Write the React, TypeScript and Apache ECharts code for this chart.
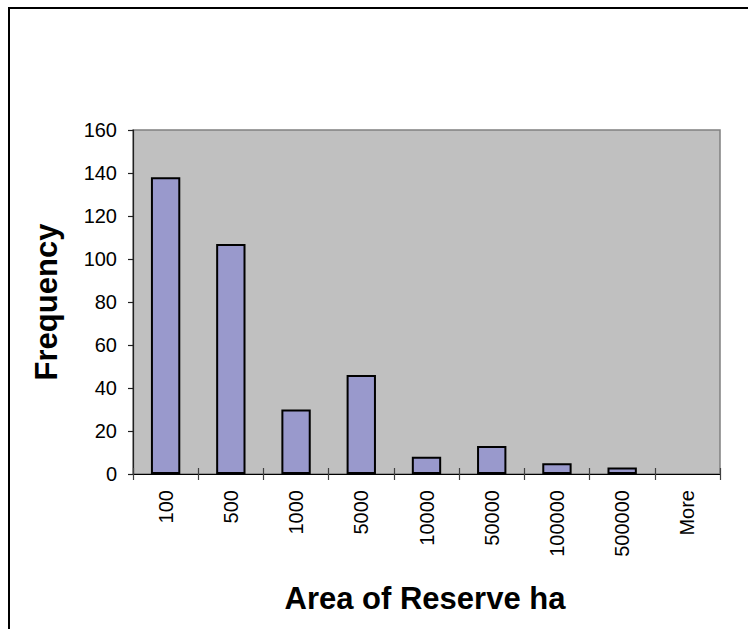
import React, { useEffect, useRef } from "react";
import * as echarts from "echarts";

// Histogram bins (upper bound of reserve area, ha) and counts
const binLabels = ["100", "500", "1000", "5000", "10000", "50000", "100000", "500000", "More"];
const frequencies = [138, 107, 30, 46, 8, 13, 5, 3, 0];
const yTicks = { min: 0, max: 160, interval: 20 };

const FONT = "'Liberation Sans', Arial, Helvetica, sans-serif";

export default function App() {
  const ref = useRef<HTMLDivElement>(null);

  useEffect(() => {
    if (!ref.current) return;
    const chart = echarts.init(ref.current, null, { renderer: "svg" });
    // empty bins get no outline, so nothing shows on the baseline
    const barData = frequencies.map((v) =>
      v === 0 ? { value: v, itemStyle: { borderWidth: 0 } } : v
    );
    chart.setOption({
      animation: false,
      backgroundColor: "#ffffff",
      grid: {
        left: 133,
        right: 28,
        top: 130,
        bottom: 155,
        show: true,
        backgroundColor: "#C0C0C0",
        borderColor: "#808080",
        borderWidth: 1.5,
      },
      xAxis: [
        {
          type: "category",
          data: binLabels,
          position: "bottom",
          axisLine: { show: true, lineStyle: { color: "#000", width: 1.2 } },
          axisTick: { show: true, length: 6, lineStyle: { color: "#404040", width: 1.2 } },
          axisLabel: {
            rotate: 90,
            margin: 16,
            fontSize: 20,
            color: "#000",
            fontFamily: FONT,
          },
          splitLine: { show: false },
        },
        {
          // inner half of the crossing tick marks
          type: "category",
          data: binLabels,
          position: "bottom",
          axisLine: { show: false },
          axisTick: { show: true, inside: true, length: 6, lineStyle: { color: "#404040", width: 1.2 } },
          axisLabel: { show: false },
          splitLine: { show: false },
        },
      ],
      yAxis: {
        type: "value",
        min: yTicks.min,
        max: yTicks.max,
        interval: yTicks.interval,
        axisLine: { show: true, lineStyle: { color: "#202020", width: 1.2 } },
        axisTick: { show: true, length: 5, lineStyle: { color: "#202020", width: 1.2 } },
        axisLabel: { margin: 16, fontSize: 20, color: "#000", fontFamily: FONT },
        splitLine: { show: false },
      },
      series: [
        {
          type: "bar",
          data: barData,
          xAxisIndex: 0,
          barCategoryGap: "55%",
          itemStyle: { color: "#9999CC", borderColor: "#000", borderWidth: 2 },
        },
      ],
      graphic: [
        {
          type: "rect",
          silent: true,
          z: -1,
          shape: { x: 9, y: 8, width: 900, height: 900 },
          style: { fill: "none", stroke: "#000", lineWidth: 2 },
        },
        {
          type: "text",
          x: 46,
          y: 302,
          rotation: Math.PI / 2,
          style: {
            text: "Frequency",
            align: "center",
            verticalAlign: "middle",
            fontSize: 31,
            fontWeight: "bold",
            fontFamily: FONT,
            fill: "#000",
          },
        },
        {
          type: "text",
          x: 425,
          y: 598,
          style: {
            text: "Area of Reserve ha",
            align: "center",
            verticalAlign: "middle",
            fontSize: 31,
            fontWeight: "bold",
            fontFamily: FONT,
            fill: "#000",
          },
        },
      ],
    });
    return () => chart.dispose();
  }, []);

  return (
    <div
      ref={ref}
      style={{ position: "absolute", left: 0, top: 0, width: 748, height: 629 }}
    />
  );
}
